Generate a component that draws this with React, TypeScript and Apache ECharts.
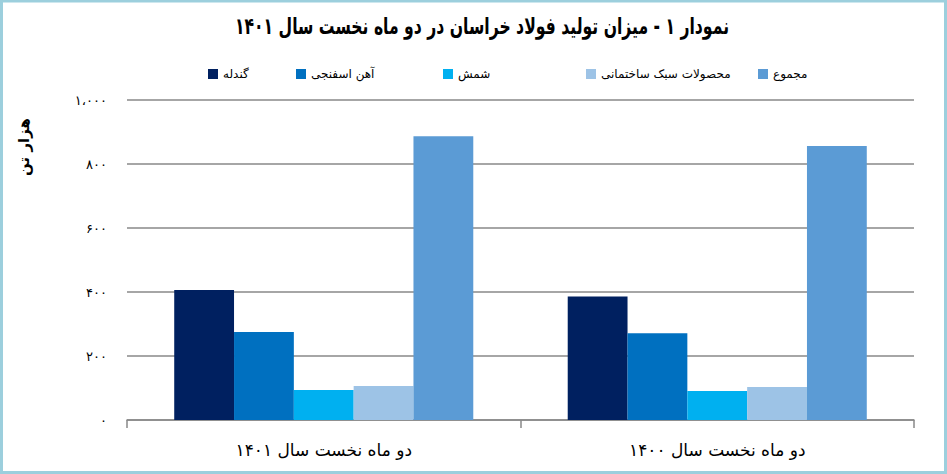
import React from 'react';
import * as echarts from 'echarts';

const categories = ['دو ماه نخست سال ۱۴۰۱', 'دو ماه نخست سال ۱۴۰۰'];
const pellet = [406, 386];
const spongeIron = [275, 271];
const billet = [94, 91];
const lightSections = [106, 103];
const total = [887, 856];
const yTickLabels = ['۰', '۲۰۰', '۴۰۰', '۶۰۰', '۸۰۰', '۱،۰۰۰'];

const seriesList = [
  { name: 'گندله', data: pellet, color: '#002060', legendLeft: 203 },
  { name: 'آهن اسفنجی', data: spongeIron, color: '#0070C0', legendLeft: 291 },
  { name: 'شمش', data: billet, color: '#00B0F0', legendLeft: 438 },
  { name: 'محصولات سبک ساختمانی', data: lightSections, color: '#9DC3E6', legendLeft: 581 },
  { name: 'مجموع', data: total, color: '#5B9BD5', legendLeft: 753 },
];

const faFont = '"DejaVu Sans", "Noto Sans", sans-serif';

export default function App() {
  const chartRef = React.useRef<HTMLDivElement>(null);

  React.useEffect(() => {
    if (!chartRef.current) return;
    const chart = echarts.init(chartRef.current, null, { renderer: 'svg' });

    const option: echarts.EChartsOption = {
      animation: false,
      backgroundColor: '#ffffff',
      legend: seriesList.map((s) => ({
        data: [s.name],
        left: s.legendLeft,
        top: 63,
        itemWidth: 10,
        itemHeight: 10,
        icon: 'rect',
        selectedMode: false,
        textStyle: { fontFamily: faFont, fontSize: 12, color: '#000' },
      })),
      grid: { left: 127, right: 33, top: 100, bottom: 54 },
      xAxis: {
        type: 'category',
        data: categories,
        axisLine: { lineStyle: { color: '#898989', width: 1.5 } },
        axisTick: { show: true, length: 8, lineStyle: { color: '#898989', width: 1.5 } },
        axisLabel: { fontFamily: faFont, fontSize: 17, color: '#000', margin: 21 },
      },
      yAxis: {
        type: 'value',
        min: 0,
        max: 1000,
        interval: 200,
        axisLine: { show: false },
        axisTick: { show: false },
        splitLine: { lineStyle: { color: '#898989', width: 1.5 } },
        axisLabel: {
          fontFamily: faFont,
          fontSize: 13,
          color: '#000',
          margin: 20,
          formatter: (v: number) => yTickLabels[Math.round(v / 200)] ?? '',
        },
      },
      series: seriesList.map((s) => ({
        name: s.name,
        type: 'bar',
        data: s.data,
        barGap: '0%',
        barCategoryGap: '24%',
        itemStyle: { color: s.color },
      })),
      graphic: [
        {
          // condensed bold title
          type: 'text',
          x: 482,
          y: 26,
          scaleX: 0.68,
          style: {
            text: 'نمودار ۱ - میزان تولید فولاد خراسان در دو ماه نخست سال ۱۴۰۱',
            fontFamily: faFont,
            fontSize: 23,
            fontWeight: 'bold',
            fill: '#000',
            align: 'center',
            verticalAlign: 'middle',
          },
        },
        {
          type: 'text',
          x: 24,
          y: 147,
          rotation: Math.PI / 2,
          style: {
            text: 'هزار تن',
            fontFamily: faFont,
            fontSize: 15,
            fontWeight: 'bold',
            fill: '#000',
            align: 'center',
            verticalAlign: 'middle',
          },
        },
        {
          type: 'rect',
          shape: { x: 1.5, y: 1, width: 944, height: 471.5 },
          style: { fill: 'none', stroke: '#9CCFDD', lineWidth: 3 },
        },
      ],
    };

    chart.setOption(option);
    return () => {
      chart.dispose();
    };
  }, []);

  return (
    <div
      ref={chartRef}
      style={{ position: 'fixed', left: 0, top: 0, width: '947px', height: '474px' }}
    />
  );
}
